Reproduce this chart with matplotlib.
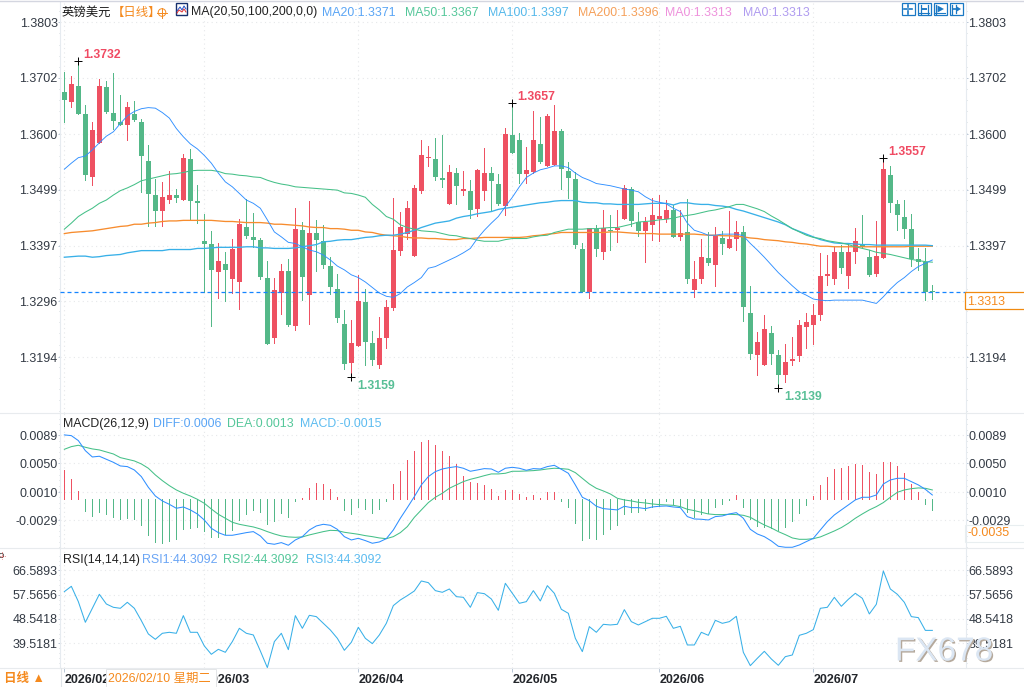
import matplotlib
matplotlib.use("Agg")
import matplotlib.pyplot as plt
import matplotlib.patheffects as pe
import numpy as np
from matplotlib.patches import Circle, Rectangle

plt.rcParams['font.family'] = ['Liberation Sans', 'Noto Sans CJK SC', 'DejaVu Sans']

# daily GBP/USD candles
opens = [
    1.3676,1.3659,1.3687,1.3636,1.3522,1.3584,1.3685,1.3638,1.3622,1.3616,
    1.3636,1.3622,1.3551,1.3489,1.3460,1.3480,1.3489,1.3480,1.3555,1.3478,
    1.3405,1.3400,1.3349,1.3364,1.3336,1.3331,1.3431,1.3413,1.3407,1.3338,
    1.3229,1.3311,1.3351,1.3251,1.3425,1.3307,1.3420,1.3405,1.3360,1.3318,
    1.3255,1.3184,1.3215,1.3295,1.3220,1.3180,1.3229,1.3284,1.3387,1.3418,
    1.3378,1.3496,1.3557,1.3555,1.3520,1.3473,1.3529,1.3496,1.3496,1.3464,
    1.3496,1.3529,1.3509,1.3469,1.3598,1.3589,1.3527,1.3531,1.3582,1.3542,
    1.3544,1.3605,1.3533,1.3518,1.3391,1.3313,1.3427,1.3385,1.3425,1.3425,
    1.3445,1.3500,1.3440,1.3424,1.3435,1.3445,1.3445,1.3462,1.3413,1.3422,
    1.3316,1.3336,1.3374,1.3362,1.3411,1.3393,1.3409,1.3422,1.3275,1.3198,
    1.3180,1.3238,1.3198,1.3162,1.3187,1.3196,1.3249,1.3253,1.3271,1.3342,
    1.3336,1.3386,1.3342,1.3386,1.3400,1.3376,1.3345,1.3374,1.3525,1.3473,
    1.3449,1.3427,1.3373,1.3367,1.3315]
closes = [
    1.3661,1.3691,1.3636,1.3525,1.3607,1.3687,1.3640,1.3624,1.3616,1.3649,
    1.3625,1.3560,1.3491,1.3460,1.3486,1.3489,1.3484,1.3556,1.3478,1.3475,
    1.3400,1.3353,1.3369,1.3353,1.3391,1.3436,1.3415,1.3407,1.3340,1.3218,
    1.3316,1.3351,1.3253,1.3427,1.3340,1.3420,1.3407,1.3362,1.3322,1.3265,
    1.3182,1.3220,1.3296,1.3222,1.3189,1.3229,1.3285,1.3389,1.3431,1.3465,
    1.3502,1.3562,1.3558,1.3522,1.3516,1.3531,1.3505,1.3500,1.3462,1.3535,
    1.3529,1.3515,1.3472,1.3600,1.3565,1.3527,1.3535,1.3589,1.3549,1.3633,
    1.3605,1.3536,1.3520,1.3398,1.3313,1.3429,1.3391,1.3429,1.3424,1.3429,
    1.3502,1.3442,1.3424,1.3440,1.3453,1.3451,1.3462,1.3413,1.3420,1.3336,
    1.3336,1.3376,1.3365,1.3415,1.3400,1.3409,1.3422,1.3285,1.3200,1.3222,
    1.3245,1.3200,1.3162,1.3186,1.3191,1.3253,1.3258,1.3271,1.3342,1.3345,
    1.3386,1.3356,1.3386,1.3405,1.3395,1.3344,1.3378,1.3537,1.3475,1.3453,
    1.3427,1.3373,1.3367,1.3312,1.3313]
highs = [
    1.3713,1.3705,1.3732,1.3653,1.3622,1.3700,1.3696,1.3711,1.3671,1.3658,
    1.3660,1.3627,1.3580,1.3518,1.3513,1.3533,1.3500,1.3564,1.3573,1.3507,
    1.3455,1.3424,1.3402,1.3386,1.3409,1.3445,1.3482,1.3456,1.3411,1.3369,
    1.3338,1.3364,1.3373,1.3465,1.3440,1.3478,1.3444,1.3435,1.3376,1.3345,
    1.3280,1.3262,1.3344,1.3318,1.3242,1.3267,1.3298,1.3484,1.3458,1.3478,
    1.3507,1.3589,1.3578,1.3593,1.3598,1.3544,1.3538,1.3533,1.3516,1.3536,
    1.3575,1.3540,1.3527,1.3611,1.3657,1.3602,1.3576,1.3642,1.3631,1.3636,
    1.3653,1.3609,1.3549,1.3531,1.3402,1.3429,1.3435,1.3462,1.3453,1.3462,
    1.3507,1.3504,1.3458,1.3450,1.3484,1.3489,1.3480,1.3471,1.3462,1.3482,
    1.3369,1.3409,1.3422,1.3431,1.3424,1.3460,1.3442,1.3433,1.3324,1.3240,
    1.3271,1.3251,1.3207,1.3218,1.3231,1.3262,1.3275,1.3291,1.3384,1.3380,
    1.3395,1.3398,1.3400,1.3429,1.3453,1.3389,1.3442,1.3557,1.3542,1.3480,
    1.3480,1.3455,1.3393,1.3393,1.3325]
lows = [
    1.3622,1.3650,1.3636,1.3516,1.3508,1.3584,1.3638,1.3609,1.3616,1.3589,
    1.3624,1.3494,1.3433,1.3433,1.3433,1.3475,1.3477,1.3480,1.3444,1.3439,
    1.3313,1.3251,1.3302,1.3296,1.3311,1.3282,1.3411,1.3395,1.3336,1.3218,
    1.3220,1.3273,1.3251,1.3244,1.3298,1.3255,1.3351,1.3356,1.3309,1.3258,
    1.3173,1.3159,1.3215,1.3180,1.3180,1.3175,1.3211,1.3280,1.3380,1.3409,
    1.3378,1.3493,1.3542,1.3516,1.3504,1.3473,1.3473,1.3489,1.3447,1.3451,
    1.3480,1.3462,1.3471,1.3452,1.3565,1.3511,1.3511,1.3529,1.3547,1.3542,
    1.3544,1.3500,1.3484,1.3393,1.3313,1.3302,1.3378,1.3373,1.3389,1.3404,
    1.3445,1.3433,1.3415,1.3367,1.3407,1.3405,1.3440,1.3413,1.3407,1.3330,
    1.3304,1.3329,1.3362,1.3324,1.3382,1.3393,1.3389,1.3260,1.3191,1.3162,
    1.3180,1.3182,1.3139,1.3149,1.3180,1.3187,1.3211,1.3218,1.3262,1.3326,
    1.3327,1.3347,1.3320,1.3365,1.3393,1.3342,1.3342,1.3374,1.3459,1.3425,
    1.3411,1.3360,1.3353,1.3298,1.3300]

ma20 = [
    1.3536,1.3547,1.3557,1.3560,1.3571,1.3584,1.3596,1.3604,1.3619,1.3633,
    1.3641,1.3646,1.3648,1.3647,1.3639,1.3629,1.3610,1.3595,1.3582,1.3573,
    1.3561,1.3547,1.3529,1.3513,1.3504,1.3492,1.3480,1.3474,1.3465,1.3444,
    1.3422,1.3413,1.3403,1.3401,1.3395,1.3389,1.3386,1.3380,1.3371,1.3360,
    1.3353,1.3344,1.3339,1.3331,1.3321,1.3311,1.3305,1.3303,1.3310,1.3322,
    1.3330,1.3339,1.3356,1.3359,1.3365,1.3371,1.3377,1.3384,1.3392,1.3410,
    1.3425,1.3438,1.3450,1.3468,1.3485,1.3504,1.3521,1.3529,1.3535,1.3538,
    1.3542,1.3542,1.3539,1.3529,1.3521,1.3516,1.3510,1.3508,1.3506,1.3503,
    1.3500,1.3498,1.3495,1.3486,1.3479,1.3476,1.3473,1.3465,1.3459,1.3438,
    1.3425,1.3421,1.3416,1.3416,1.3418,1.3418,1.3418,1.3415,1.3401,1.3389,
    1.3376,1.3362,1.3348,1.3336,1.3324,1.3313,1.3307,1.3300,1.3298,1.3297,
    1.3298,1.3298,1.3298,1.3298,1.3298,1.3295,1.3292,1.3304,1.3318,1.3330,
    1.3339,1.3350,1.3359,1.3365,1.3371]
ma50 = [
    1.3427,1.3438,1.3450,1.3458,1.3465,1.3474,1.3480,1.3489,1.3497,1.3502,
    1.3508,1.3515,1.3518,1.3521,1.3524,1.3527,1.3528,1.3530,1.3533,1.3534,
    1.3534,1.3534,1.3532,1.3528,1.3527,1.3525,1.3524,1.3522,1.3521,1.3516,
    1.3512,1.3509,1.3507,1.3504,1.3503,1.3502,1.3501,1.3500,1.3499,1.3498,
    1.3493,1.3492,1.3489,1.3485,1.3472,1.3462,1.3450,1.3445,1.3435,1.3430,
    1.3427,1.3424,1.3423,1.3422,1.3419,1.3416,1.3415,1.3412,1.3410,1.3407,
    1.3405,1.3405,1.3405,1.3408,1.3410,1.3410,1.3410,1.3413,1.3415,1.3416,
    1.3421,1.3424,1.3427,1.3427,1.3427,1.3428,1.3428,1.3429,1.3430,1.3430,
    1.3433,1.3436,1.3440,1.3441,1.3442,1.3444,1.3445,1.3447,1.3450,1.3452,
    1.3454,1.3457,1.3460,1.3462,1.3465,1.3468,1.3472,1.3472,1.3468,1.3464,
    1.3459,1.3451,1.3444,1.3436,1.3428,1.3422,1.3416,1.3412,1.3410,1.3406,
    1.3404,1.3402,1.3399,1.3395,1.3392,1.3389,1.3385,1.3383,1.3381,1.3378,
    1.3375,1.3372,1.3370,1.3368,1.3367]
ma100 = [
    1.3376,1.3377,1.3378,1.3378,1.3376,1.3377,1.3379,1.3380,1.3381,1.3384,
    1.3386,1.3388,1.3388,1.3388,1.3388,1.3390,1.3390,1.3390,1.3390,1.3392,
    1.3392,1.3393,1.3394,1.3394,1.3394,1.3394,1.3395,1.3395,1.3393,1.3393,
    1.3392,1.3392,1.3392,1.3393,1.3395,1.3397,1.3399,1.3404,1.3405,1.3407,
    1.3408,1.3408,1.3410,1.3412,1.3413,1.3415,1.3416,1.3416,1.3418,1.3421,
    1.3425,1.3430,1.3434,1.3438,1.3440,1.3442,1.3447,1.3450,1.3452,1.3455,
    1.3457,1.3459,1.3463,1.3465,1.3467,1.3469,1.3471,1.3473,1.3475,1.3476,
    1.3478,1.3479,1.3479,1.3479,1.3476,1.3475,1.3475,1.3473,1.3473,1.3472,
    1.3472,1.3472,1.3472,1.3473,1.3474,1.3474,1.3474,1.3471,1.3475,1.3475,
    1.3473,1.3472,1.3472,1.3470,1.3469,1.3467,1.3463,1.3460,1.3456,1.3452,
    1.3448,1.3444,1.3440,1.3435,1.3428,1.3423,1.3418,1.3413,1.3408,1.3405,
    1.3402,1.3401,1.3401,1.3400,1.3399,1.3399,1.3398,1.3398,1.3398,1.3398,
    1.3398,1.3398,1.3398,1.3398,1.3397]
ma200 = [
    1.3419,1.3421,1.3422,1.3423,1.3424,1.3426,1.3428,1.3430,1.3432,1.3433,
    1.3436,1.3436,1.3438,1.3439,1.3441,1.3442,1.3442,1.3443,1.3443,1.3443,
    1.3443,1.3443,1.3442,1.3441,1.3441,1.3440,1.3439,1.3439,1.3439,1.3438,
    1.3436,1.3436,1.3435,1.3434,1.3433,1.3431,1.3430,1.3430,1.3428,1.3428,
    1.3427,1.3425,1.3425,1.3422,1.3421,1.3418,1.3416,1.3415,1.3414,1.3412,
    1.3411,1.3411,1.3410,1.3410,1.3409,1.3408,1.3408,1.3410,1.3410,1.3411,
    1.3412,1.3412,1.3412,1.3412,1.3412,1.3412,1.3413,1.3415,1.3416,1.3418,
    1.3419,1.3421,1.3421,1.3421,1.3421,1.3421,1.3421,1.3421,1.3422,1.3422,
    1.3421,1.3420,1.3419,1.3419,1.3419,1.3418,1.3418,1.3418,1.3418,1.3418,
    1.3418,1.3417,1.3416,1.3416,1.3415,1.3415,1.3414,1.3413,1.3411,1.3410,
    1.3408,1.3407,1.3406,1.3404,1.3403,1.3401,1.3400,1.3398,1.3396,1.3396,
    1.3395,1.3395,1.3395,1.3395,1.3395,1.3395,1.3395,1.3395,1.3395,1.3395,
    1.3395,1.3396,1.3396,1.3396,1.3396]

macd_hist = [
    .00408,.00283,.00116,-.00162,-.00232,-.00176,-.00204,-.00246,-.00274,-.00264,
    -.00274,-.00357,-.00496,-.00594,-.00608,-.0058,-.00552,-.00418,-.00399,-.00385,
    -.00441,-.00524,-.00524,-.00483,-.00427,-.00288,-.00204,-.00148,-.00176,-.00343,
    -.00302,-.00195,-.00246,-.00023,.00019,.00158,.00227,.00213,.00144,.00037,
    -.00148,-.00204,-.00107,-.00135,-.0019,-.00135,-.00023,.00213,.00394,.00548,
    .00673,.00798,.00826,.00756,.00673,.00603,.00492,.00325,.00241,.00227,
    .002,.00144,.00046,.0013,.0013,.00074,.00037,.0006,.00019,.00102,
    .00107,-.00023,-.00107,-.00329,-.00566,-.00538,-.00552,-.00483,-.00413,-.00357,
    -.00204,-.00176,-.00176,-.00148,-.00107,-.00093,-.00023,-.0006,-.00093,-.00176,
    -.00246,-.00204,-.0019,-.00107,-.00065,-.00009,.0006,-.00107,-.00274,-.00371,
    -.00385,-.00399,-.00427,-.00385,-.00302,-.0019,-.00079,.00046,.002,.00311,
    .00422,.00436,.00464,.00492,.00478,.0038,.00353,.0052,.0052,.00464,
    .00367,.00213,.00102,-.00065,-.0015]
diff = [
    .00896,.00886,.00817,.00677,.00589,.00599,.00557,.00515,.00464,.00455,
    .00408,.00316,.00167,.00046,-.00023,-.0007,-.00125,-.00107,-.00148,-.00204,
    -.00288,-.00404,-.00464,-.00501,-.00501,-.00483,-.00464,-.0045,-.0051,-.00612,
    -.00626,-.00603,-.0064,-.00566,-.0052,-.00427,-.00371,-.00348,-.00362,-.00418,
    -.0052,-.00566,-.00543,-.00575,-.00612,-.00594,-.00548,-.00427,-.00264,-.00116,
    .00037,.002,.00316,.00385,.00422,.00441,.00455,.00432,.0039,.00408,
    .00427,.00422,.00376,.00432,.00445,.00432,.00404,.00427,.00422,.00455,
    .00473,.00418,.00362,.002,.00028,-.00019,-.00097,-.0013,-.00139,-.00148,
    -.00097,-.00116,-.00116,-.0013,-.00107,-.00097,-.00093,-.00107,-.00116,-.00241,
    -.00274,-.00278,-.00288,-.00241,-.00232,-.00204,-.00186,-.00264,-.00418,-.00483,
    -.0052,-.0058,-.00654,-.00668,-.00668,-.00636,-.00589,-.00543,-.00427,-.00311,
    -.00218,-.00148,-.00079,-.00009,.00028,.00028,.0006,.00213,.00269,.00292,
    .00292,.00246,.002,.00139,.0006]
dea = [
    .00696,.00733,.00752,.00724,.00701,.00687,.00659,.00631,.0058,.00557,
    .00534,.00492,.00432,.00339,.0026,.0019,.0013,.00084,.00046,0.0,
    -.00056,-.00135,-.00209,-.00264,-.0032,-.00348,-.00367,-.00385,-.00413,-.0045,
    -.00483,-.0051,-.00524,-.00529,-.00524,-.00496,-.00473,-.0045,-.00432,-.00436,
    -.00459,-.00473,-.00487,-.00506,-.0052,-.00538,-.00548,-.0052,-.00464,-.0038,
    -.00251,-.00148,-.00046,.00028,.00084,.00153,.002,.00246,.00278,.00302,
    .00329,.00353,.00353,.00362,.0039,.0039,.00394,.00399,.00408,.00422,
    .00432,.00427,.00418,.00371,.00292,.00213,.00153,.00116,.00074,.00014,
    -.00009,-.00023,-.00042,-.00051,-.00065,-.00074,-.00079,-.00084,-.00102,-.00139,
    -.00158,-.00181,-.00204,-.00213,-.00213,-.00209,-.00213,-.00223,-.00251,-.00306,
    -.00357,-.00399,-.0045,-.00492,-.00538,-.00557,-.00557,-.00548,-.00524,-.00483,
    -.00441,-.00394,-.00334,-.00264,-.00204,-.00148,-.00102,-.00046,.00028,.00097,
    .0013,.00148,.00158,.00153,.0013]
rsi = [
    58.68,60.65,54.97,47.31,52.50,57.69,54.10,52.87,52.50,54.72,
    52.50,47.92,42.98,41.00,43.23,43.60,43.23,49.78,43.60,43.60,
    38.53,35.44,37.29,36.18,40.14,45.08,43.23,42.61,36.68,30.50,
    40.14,43.23,37.17,49.78,45.08,49.90,49.41,46.93,44.46,41.37,
    36.92,39.89,45.45,41.37,39.40,42.61,46.93,53.50,55.59,57.19,
    58.92,62.63,62.01,59.05,58.43,59.66,56.82,56.57,52.87,58.31,
    57.93,55.96,51.75,61.77,58.06,54.35,54.97,59.05,55.22,60.90,
    58.06,52.13,50.64,41.37,36.43,45.70,43.60,46.56,46.32,46.56,
    52.00,47.55,46.32,47.55,48.79,48.79,49.53,45.08,45.82,38.90,
    38.90,43.60,42.48,48.05,46.93,47.55,49.53,36.18,31.24,33.96,
    36.55,33.71,31.36,34.57,35.19,42.48,43.23,44.59,52.50,52.87,
    56.57,53.24,55.83,58.06,56.20,50.40,53.98,66.34,59.66,57.69,
    54.72,49.41,49.04,44.3092,44.3092]

price_ticks = [1.3803, 1.3702, 1.3600, 1.3499, 1.3397, 1.3296, 1.3194]
macd_ticks = [0.0089, 0.0050, 0.0010, -0.0029]
rsi_ticks = [66.5893, 57.5656, 48.5418, 39.5181]
month_pos = [0, 20, 42, 64, 85, 107]
month_labels = ['2026/02', '2026/03', '2026/04', '2026/05', '2026/06', '2026/07']
peak_days = [2, 64, 117]
trough_days = [41, 102]
last_price = 1.3313
last_macd = -0.0035

RED = '#ee5162'
GREEN = '#54b888'
BLUE = '#2f8fff'
MINT = '#45c088'
SKY = '#38b0e8'
ORANGE = '#f78c2e'
LABEL = '#333a44'
GRID = '#e6e8ea'
EDGE = '#e6ebf0'

W, H = 1024, 687
fig = plt.figure(figsize=(W/100, H/100), dpi=100, facecolor='white')


def panel(top, bottom):
    return fig.add_axes([60/W, 1-bottom/H, 906/W, (bottom-top)/H])


ax_price = panel(2, 413)
ax_macd = panel(413, 548)
ax_rsi = panel(548, 668)

days = np.arange(len(closes))
x_range = (-0.62, 128.81)

ax_price.set_ylim(1.30928, 1.38400)
ax_macd.set_ylim(-0.00678, 0.01201)
ax_rsi.set_ylim(30.36, 74.86)

for ax, ticks in [(ax_price, price_ticks), (ax_macd, macd_ticks), (ax_rsi, rsi_ticks)]:
    ax.set_xlim(x_range)
    ax.set_xticks(month_pos)
    ax.set_yticks(ticks, ['%.4f' % t for t in ticks])
    step = (ticks[0]-ticks[1])/5
    minor = [ticks[0] - step*k for k in range(-3, 40)
             if ax.get_ylim()[0] < ticks[0] - step*k < ax.get_ylim()[1]]
    ax.set_yticks(minor, minor=True)
    ax.grid(True, axis='both', color=GRID, lw=0.8, ls=(0, (1, 3)))
    ax.set_axisbelow(True)
    for side in ['top', 'bottom']:
        ax.spines[side].set_visible(False)
    for side in ['left', 'right']:
        ax.spines[side].set_color(EDGE)
        ax.spines[side].set_linewidth(0.8)
    ax.tick_params(axis='y', which='major', left=True, right=True, labelleft=True,
                   labelright=True, length=1.4, width=0.7, color='#b9c7d6',
                   labelsize=9, labelcolor=LABEL, pad=0.3)
    ax.tick_params(axis='y', which='minor', left=True, right=True, length=1.0,
                   width=0.7, color='#cfd4d9')
    ax.tick_params(axis='x', length=0, labelbottom=False)

# the price tag sits where the right 1.3296 label would be
ax_price.yaxis.get_major_ticks()[5].label2.set_visible(False)

# candles
is_up = np.array(closes) >= np.array(opens)
candle_colors = [RED if up else GREEN for up in is_up]
ax_price.vlines(days, lows, highs, colors=candle_colors, lw=0.5, antialiased=False, zorder=2)
ax_price.bar(days, np.abs(np.array(closes)-np.array(opens)),
             bottom=np.minimum(opens, closes), width=5/7, color=candle_colors,
             linewidth=0, zorder=2.5)

ax_price.plot(days, ma200, color=ORANGE, lw=0.95, zorder=3)
ax_price.plot(days, ma100, color=SKY, lw=0.95, zorder=3)
ax_price.plot(days, ma50, color=MINT, lw=0.75, zorder=3)
ax_price.plot(days, ma20, color=BLUE, lw=0.65, zorder=3)
ax_price.axhline(last_price, color='#1585ff', lw=0.9, ls=(0, (3.2, 2.4)), zorder=4)

for d in peak_days:
    ax_price.plot(d, highs[d], marker='+', color='black', ms=6, mew=0.7, zorder=5)
    ax_price.annotate('%.4f' % highs[d], (d, highs[d]), xytext=(5, 6),
                      textcoords='offset pixels', color='#f04a62', fontsize=8.8,
                      fontweight='bold', va='center', ha='left', zorder=6)
for d in trough_days:
    ax_price.plot(d, lows[d], marker='+', color='black', ms=6, mew=0.7, zorder=5)
    ax_price.annotate('%.4f' % lows[d], (d, lows[d]), xytext=(6, -9),
                      textcoords='offset pixels', color='#58bf96', fontsize=8.8,
                      fontweight='bold', va='center', ha='left', zorder=6)

# MACD panel
hist_colors = [RED if v >= 0 else GREEN for v in macd_hist]
ax_macd.vlines(days, 0, macd_hist, colors=hist_colors, lw=0.5, antialiased=False, zorder=2)
ax_macd.plot(days, dea, color=MINT, lw=0.75, zorder=3)
ax_macd.plot(days, diff, color=BLUE, lw=0.75, zorder=3)

# RSI panel, the three series coincide
ax_rsi.plot(days, rsi, color=SKY, lw=0.75, zorder=3)
ax_rsi.set_xticks(month_pos, month_labels)
ax_rsi.tick_params(axis='x', length=3, width=0.7, color='#b9c7d6', labelbottom=True,
                   labelsize=9, labelcolor='#23262b', pad=1.5)
for lab in ax_rsi.get_xticklabels():
    lab.set_ha('left')
    lab.set_fontweight('bold')

# overlay in pixel coordinates for the toolbar, legends and separators
ov = fig.add_axes([0, 0, 1, 1], zorder=10)
ov.set_xlim(0, W)
ov.set_ylim(H, 0)
ov.axis('off')
ov.patch.set_alpha(0)

for y in [413, 548, 668]:
    ov.plot([0, W], [y, y], color='#e8ebee', lw=0.8)
ov.plot([0, W], [0.6, 0.6], color='#d4d6e0', lw=1.0)
ov.plot([60.5, 60.5], [668, H], color='#dfe4e8', lw=0.8)


def legend_row(y, items):
    for x, text, color in items:
        ov.text(x, y, text, color=color, fontsize=8.9, va='center', ha='left')


legend_row(12.5, [
    (62, '英镑美元', '#1a1a1a'),
    (112, '【日线】', '#f58a1e'),
    (191, 'MA(20,50,100,200,0,0)', '#222222'),
    (322, 'MA20:1.3371', '#5aa5f5'),
    (405, 'MA50:1.3367', '#55c79a'),
    (487.7, 'MA100:1.3397', '#55b8ea'),
    (577.7, 'MA200:1.3396', '#f5a05a'),
    (665.5, 'MA0:1.3313', '#ee92dc'),
    (743.5, 'MA0:1.3313', '#b09cf0'),
])
legend_row(424, [
    (62.5, 'MACD(26,12,9)', '#222222'),
    (152.5, 'DIFF:0.0006', '#5aa5f5'),
    (226.7, 'DEA:0.0013', '#55c79a'),
    (299.7, 'MACD:-0.0015', '#5dbcf0'),
])
legend_row(560, [
    (62.5, 'RSI(14,14,14)', '#222222'),
    (141.7, 'RSI1:44.3092', '#6aa5f5'),
    (223.3, 'RSI2:44.3092', '#55c79a'),
    (305.6, 'RSI3:44.3092', '#5dbcf0'),
])

# small toggle next to the title
ov.add_patch(Circle((162, 12.5), 3.8, fill=False, ec='#f58a1e', lw=0.7))
ov.plot([157, 167], [12.5, 12.5], color='#f58a1e', lw=0.7)
ov.plot([162, 162], [7.5, 17.5], color='#f58a1e', lw=0.7)

# MA indicator icon
ov.add_patch(Rectangle((176, 3), 10.5, 12, fc='white', ec='#16306e', lw=1.0))
ov.plot([177, 180, 182, 184, 186], [11, 7, 10, 6, 9], color='#2050c8', lw=0.7)
ov.plot([177, 179, 182, 184, 186], [13, 10, 12, 9, 12], color='#e03030', lw=0.7)

# toolbar buttons at the top right
TOOL = '#1a78c4'
for x0 in [901.5, 917.5, 933.5, 949.5]:
    ov.add_patch(Rectangle((x0, 3), 13, 12.3, fill=False, ec=TOOL, lw=0.9))
ov.plot([904, 906.5], [9, 9], color=TOOL, lw=1.2)
ov.plot([909, 912], [9, 9], color=TOOL, lw=1.2)
ov.plot([908, 908], [4.5, 7], color=TOOL, lw=1.2)
ov.plot([908, 908], [11, 13.5], color=TOOL, lw=1.2)
ov.plot([920.5, 920.5], [4.5, 14], color=TOOL, lw=0.9)
ov.plot([927.5, 927.5], [4.5, 14], color=TOOL, lw=0.9)
ov.plot([923, 926], [9, 9], color=TOOL, lw=1.4)
ov.plot([919, 929], [13, 13], color=TOOL, lw=0.8)
ov.plot([936, 936], [4.5, 14], color=TOOL, lw=0.9)
ov.fill([937.5, 937.5, 944], [5.5, 12.5, 9], color=TOOL, lw=0)
ov.plot([935, 945], [13, 13], color=TOOL, lw=0.8)
ov.plot([952, 952], [4.5, 14], color=TOOL, lw=0.9)
ov.plot([955.5, 955.5], [5, 13], color=TOOL, lw=0.9)
ov.fill([956, 956, 961], [6, 12, 9], color=TOOL, lw=0)
ov.plot([953, 957], [9, 9], color=TOOL, lw=1.2)

# current price tag and crosshair value
ov.add_patch(Rectangle((965, 292.3), 60, 17, fc='white', ec='#f08a10', lw=0.9))
ov.text(967.5, 302, '%.4f' % last_price, color='#f58a1e', fontsize=9, va='center')
ov.add_patch(Rectangle((965, 525), 60, 17, fc='none', ec='#e8eef0', lw=0.8))
ov.text(968, 533.5, '%.4f' % last_macd, color='#f58a1e', fontsize=9, va='center')

# crosshair date box and the timeframe switch
ov.add_patch(Rectangle((105.5, 669), 110, 17.5, fc='white', ec='#e4e6e8', lw=0.7))
ov.text(108, 678.5, '2026/02/10 星期二', color='#f58a1e', fontsize=8.9, va='center')
ov.text(4, 679, '日线 ▲', color='#f58a1e', fontsize=9, va='center', fontweight='bold')

# reticle at the left edge
ov.plot([0, 5], [555.5, 555.5], color='#d02020', lw=0.6, ls=':')
ov.plot([1.5, 1.5], [552, 559], color='#d02020', lw=0.6, ls=':')
ov.add_patch(Circle((1.5, 555.5), 2.2, fill=False, ec='#333333', lw=0.5))

# site watermark
ov.text(895, 652, 'FX678', color='#dbe6f3', fontsize=24, va='center', ha='left',
        path_effects=[pe.withSimplePatchShadow(offset=(1, -1), shadow_rgbFace='#b5a99c', alpha=1.0)])

fig.savefig('out.png', dpi=100)
